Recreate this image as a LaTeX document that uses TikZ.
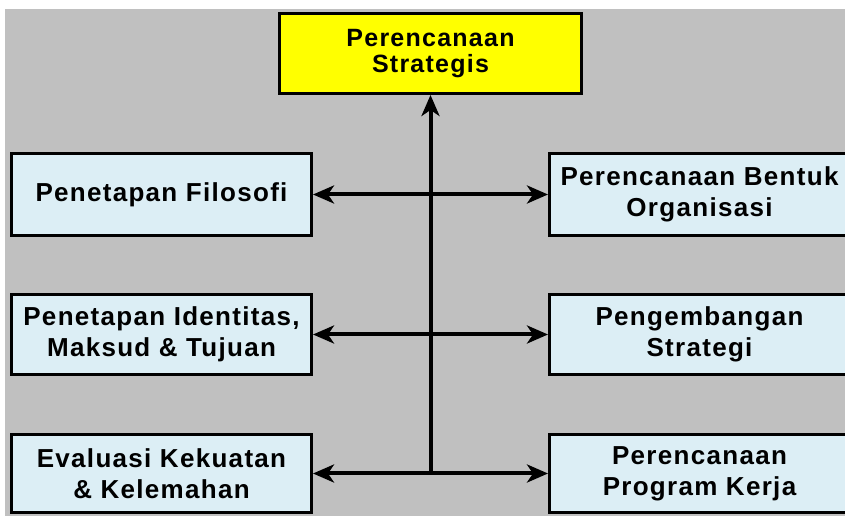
\documentclass[tikz,border=0pt]{standalone}
\usepackage{fontspec}
\setmainfont{Liberation Sans}
\newfontfamily\boxfont{Liberation Sans}[LetterSpace=5]
\usetikzlibrary{arrows.meta}
\definecolor{bggray}{HTML}{C0C0C0}
\definecolor{boxblue}{HTML}{DCEEF5}
\definecolor{topyellow}{HTML}{FFFF00}
\tikzset{
  x=1pt, y=1pt,
  card/.style={draw=black, line width=3pt, fill=boxblue, minimum width=300pt,
    minimum height=81pt, inner sep=0pt, align=center,
    font=\boxfont\bfseries\fontsize{26}{31}\selectfont},
  topcard/.style={card, fill=topyellow, minimum width=302pt, minimum height=80pt,
    font=\boxfont\bfseries\fontsize{25}{26}\selectfont},
  tip/.style={Stealth[length=21pt,width=18pt,inset=6pt]},
  link/.style={line width=4pt, {Stealth[length=21pt,width=18pt,inset=6pt]}-{Stealth[length=21pt,width=18pt,inset=6pt]}},
  uplink/.style={line width=4pt, -{Stealth[length=21pt,width=18pt,inset=6pt]}},
}
\begin{document}
\begin{tikzpicture}
\useasboundingbox (0,0) rectangle (845,516);
\clip (0,0) rectangle (845,516);
\fill[bggray] (5,0) rectangle (845,507);
\node[topcard] (T) at (430.5,462.5) {Perencanaan\\Strategis};
\node[card, minimum height=82pt] (L1) at (161.5,321.5) {Penetapan Filosofi};
\node[card, minimum height=80pt] (L2) at (161.5,181.5) {Penetapan Identitas,\\Maksud \& Tujuan};
\node[card, minimum height=78pt] (L3) at (161.5,42.5) {Evaluasi Kekuatan\\\& Kelemahan};
\node[card, minimum height=82pt] (R1) at (699.5,321.5) {Perencanaan Bentuk\\Organisasi};
\node[card, minimum height=80pt] (R2) at (699.5,181.5) {Pengembangan\\Strategi};
\node[card, minimum height=78pt] (R3) at (699.5,42.5) {Perencanaan\\Program Kerja};
\coordinate (J) at (T.south |- L3.east);
\draw[link] (L1.east) -- (R1.west);
\draw[link] (L2.east) -- (R2.west);
\draw[link] (L3.east) -- (R3.west);
\draw[uplink] (J) -- (T.south);
\end{tikzpicture}
\end{document}
